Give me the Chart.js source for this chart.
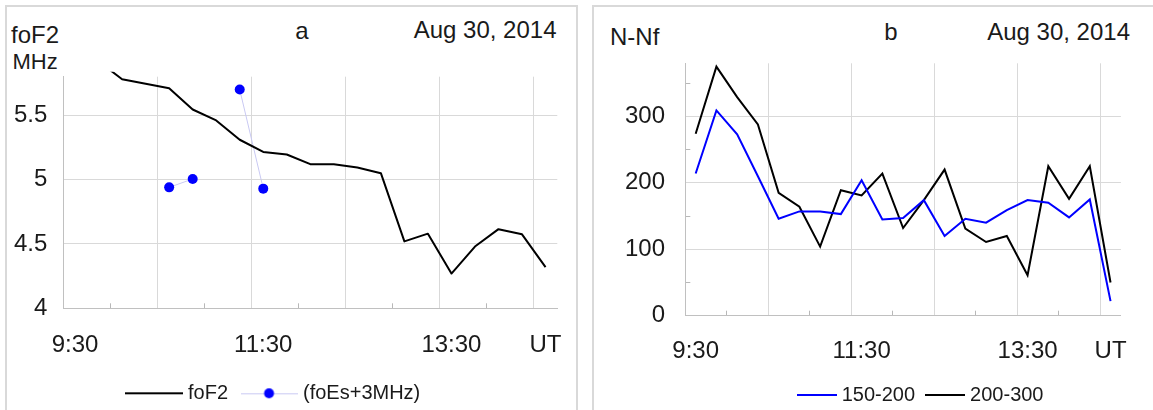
<!DOCTYPE html>
<html>
<head>
<meta charset="utf-8">
<script src="https://cdn.jsdelivr.net/npm/chart.js@4.4.1/dist/chart.umd.min.js"></script>
<style>
  html, body { margin: 0; padding: 0; background: #fff; }
  body { width: 1153px; height: 410px; overflow: hidden; position: relative;
         font-family: 'Liberation Sans', Arial, sans-serif; color: #1a1a1a; }
  .panel { position: absolute; top: 5px; height: 440px; border: 2px solid #d9d9d9; box-sizing: border-box; }
  #panelA { left: 5px; width: 573px; }
  #panelB { left: 592px; width: 600px; }
  canvas { position: absolute; top: 0; }
  #chartA { left: 0; }
  #chartB { left: 590px; }
  .lbl { position: absolute; white-space: nowrap; font-size: 24px; line-height: 24px; }
  .right { text-align: right; }
  .center { text-align: center; }
</style>
</head>
<body>
<div class="panel" id="panelA"></div>
<div class="panel" id="panelB"></div>

<div class="lbl" style="left:11px;top:23px;">foF2</div>
<div class="lbl" style="left:12.5px;top:51.4px;font-size:22px;line-height:22px;">MHz</div>
<div class="lbl center" style="left:262px;width:80px;top:18.7px;">a</div>
<div class="lbl right" style="left:256.5px;width:300px;top:18.4px;">Aug 30, 2014</div>

<div class="lbl" style="left:610px;top:25.4px;">N-Nf</div>
<div class="lbl center" style="left:851px;width:80px;top:19.7px;">b</div>
<div class="lbl right" style="left:830px;width:300px;top:19.7px;">Aug 30, 2014</div>

<canvas id="chartA" width="590" height="430"></canvas>
<canvas id="chartB" width="563" height="430"></canvas>

<script>
// 15-minute sampling times, 9:30 - 14:30 UT
const timeCategories = ['9:30', '9:45', '10:00', '10:15', '10:30', '10:45', '11:00', '11:15',
  '11:30', '11:45', '12:00', '12:15', '12:30', '12:45', '13:00', '13:15', '13:30', '13:45',
  '14:00', '14:15', '14:30'];
const labelledTimes = ['9:30', '11:30', '13:30'];
const timeUnitLabel = 'UT';

// Panel a: critical frequencies, MHz
const foF2 = [null, 5.92, 5.78, 5.745, 5.71, 5.545, 5.46, 5.31, 5.215, 5.195, 5.12,
  5.12, 5.095, 5.05, 4.52, 4.58, 4.27, 4.48, 4.615, 4.575, 4.32];
const foEsPlus3 = [null, null, null, null, 4.94, 5.005, null, 5.70, 4.93, null, null,
  null, null, null, null, null, null, null, null, null, null];
const freqTicks = [4, 4.5, 5, 5.5];

// Panel b: N - Nf counts by height range
const nNf150to200 = [214, 309, 273, 210, 146, 157, 157, 153, 204, 145, 147,
  174, 120, 146, 140, 159, 174, 170, 148, 175, 22];
const nNf200to300 = [274, 375, 329, 288, 185, 164, 104, 189, 181, 214, 132,
  174, 220, 131, 111, 120, 61, 225, 176, 225, 50];
const countTicks = [0, 100, 200, 300];
const countMinorTicks = [50, 150, 250, 350];

const textColor = '#1a1a1a';
const gridColor = '#d9d9d9';
const axisColor = '#c0c0c0';
const tickMarkColor = '#b8b8b8';
const none = 'rgba(0,0,0,0)';

Chart.defaults.font.family = "'Liberation Sans', Arial, sans-serif";
Chart.defaults.color = textColor;

// Small legend swatches: a line, optionally with a marker in the middle
function swatch(width, color, lineWidth, dot) {
  const c = document.createElement('canvas');
  c.width = width; c.height = 12;
  const g = c.getContext('2d');
  g.strokeStyle = color; g.lineWidth = lineWidth;
  const y = lineWidth % 2 ? 6.5 : 6;
  g.beginPath(); g.moveTo(0, y); g.lineTo(width, y); g.stroke();
  if (dot) {
    g.fillStyle = dot.color;
    g.beginPath(); g.arc(width / 2, 6, dot.r, 0, Math.PI * 2); g.fill();
  }
  return c;
}

// Places the legend so its first entry starts at a given x
const legendAnchor = {
  id: 'legendAnchor',
  afterLayout(chart, args, opts) {
    const lg = chart.legend;
    if (!lg || typeof opts.firstItemX !== 'number') return;
    const shift = opts.firstItemX - lg.options.labels.padding - lg.left;
    lg.left += shift; lg.right += shift;
  }
};

function timeAxis(height, labelPad) {
  return {
    type: 'category',
    offset: true,
    grid: {
      offset: true,
      color: c => (c.index % 4 === 0 && c.index > 0 && c.index < timeCategories.length) ? gridColor : none,
      tickColor: c => (c.index % 4 === 2) ? tickMarkColor : none,
      tickLength: -5,
      lineWidth: 1
    },
    border: { color: axisColor, width: 1 },
    ticks: {
      autoSkip: false, maxRotation: 0, minRotation: 0,
      padding: labelPad, color: textColor, font: { size: 24 },
      callback: (v, i) => i === timeCategories.length - 1 ? timeUnitLabel
        : (labelledTimes.includes(timeCategories[i]) ? timeCategories[i] : '')
    },
    afterFit: s => { s.height = height; }
  };
}

function legendOpts(boxW, pad, icons) {
  return {
    position: 'bottom',
    align: 'start',
    labels: {
      usePointStyle: true,
      pointStyleWidth: boxW,
      boxHeight: 20,
      padding: pad,
      color: textColor,
      font: { size: 20 },
      generateLabels(chart) {
        const items = Chart.defaults.plugins.legend.labels.generateLabels(chart);
        items.forEach((it, i) => { it.pointStyle = icons[i]; });
        return items;
      }
    }
  };
}

// Panel a
new Chart(document.getElementById('chartA'), {
  type: 'line',
  data: {
    labels: timeCategories,
    datasets: [
      {
        label: 'foF2', data: foF2,
        borderColor: '#000', borderWidth: 2, pointRadius: 0, tension: 0,
        borderJoinStyle: 'round',
        clip: { left: 0, top: 5, right: 0, bottom: 0 }
      },
      {
        label: '(foEs+3MHz)', data: foEsPlus3,
        borderColor: '#c9c9f3', borderWidth: 1, tension: 0,
        pointRadius: 5, pointBackgroundColor: '#0000ff', pointBorderColor: '#0000ff', pointBorderWidth: 0
      }
    ]
  },
  options: {
    responsive: false, animation: false, devicePixelRatio: 1,
    layout: { padding: { left: 0, right: 32.7, top: 76.7, bottom: 16.7 } },
    scales: {
      x: timeAxis(58, 27.3),
      y: {
        min: 4, max: 5.8,
        afterBuildTicks: s => { s.ticks = freqTicks.map(v => ({ value: v })); },
        grid: { color: c => (c.tick && c.tick.value > freqTicks[0]) ? gridColor : none, drawTicks: false },
        border: { color: axisColor, width: 1 },
        ticks: { padding: 16, color: textColor, font: { size: 24 }, callback: v => String(v) },
        afterFit: s => { s.width = 63.3; }
      }
    },
    plugins: {
      legend: legendOpts(48, 17, [swatch(58, '#000', 2), swatch(57, '#c9c9f3', 1, { color: '#0000ff', r: 5 })]),
      legendAnchor: { firstItemX: 130 },
      tooltip: { enabled: false }
    }
  },
  plugins: [legendAnchor]
});

// Panel b
new Chart(document.getElementById('chartB'), {
  type: 'line',
  data: {
    labels: timeCategories,
    datasets: [
      {
        label: '150-200', data: nNf150to200,
        borderColor: '#0000ff', borderWidth: 2, pointRadius: 0, tension: 0
      },
      {
        label: '200-300', data: nNf200to300,
        borderColor: '#000', borderWidth: 2, pointRadius: 0, tension: 0
      }
    ]
  },
  options: {
    responsive: false, animation: false, devicePixelRatio: 1,
    layout: { padding: { left: 0, right: 23.7, top: 63.3, bottom: 15 } },
    scales: {
      x: timeAxis(54.3, 25.9),
      y: {
        min: 0, max: 380,
        afterBuildTicks: s => {
          s.ticks = countTicks.concat(countMinorTicks).sort((a, b) => a - b).map(v => ({ value: v }));
        },
        grid: {
          color: c => (c.tick && countTicks.includes(c.tick.value) && c.tick.value > 0) ? gridColor : none,
          tickColor: c => (c.tick && countMinorTicks.includes(c.tick.value)) ? tickMarkColor : none,
          tickLength: -5
        },
        border: { color: axisColor, width: 1 },
        ticks: {
          padding: 25.3, color: textColor, font: { size: 24 },
          callback: v => countTicks.includes(v) ? String(v) : ''
        },
        afterFit: s => { s.width = 95.3; }
      }
    },
    plugins: {
      legend: legendOpts(30, 15, [swatch(40, '#0000ff', 2), swatch(40, '#000', 2)]),
      legendAnchor: { firstItemX: 211.7 },
      tooltip: { enabled: false }
    }
  },
  plugins: [legendAnchor]
});
</script>
</body>
</html>
